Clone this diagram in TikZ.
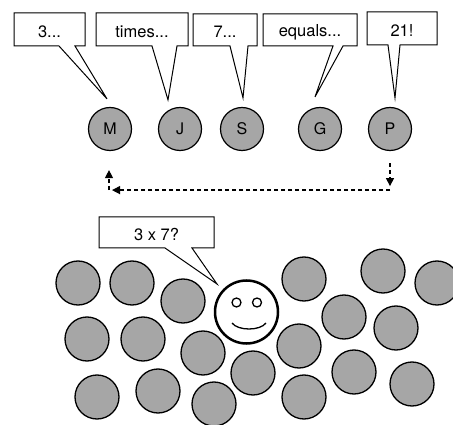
\documentclass[tikz,border=0pt]{standalone}
\usepackage{fontspec}
\setmainfont{TeX Gyre Heros}
\usetikzlibrary{arrows.meta,calc}
\definecolor{disc}{RGB}{166,166,166}

% speech box with a pointed tail:
% #1 name, #2 #3 top-left, #4 #5 bottom-right, #6 #7 tail base x, #8 tail tip, #9 text
\newcommand\speechbox[9]{%
  \draw[balloon] (#2,#3) -- (#4,#3) -- (#4,#5) -- (#7,#5) -- #8 -- (#6,#5) -- (#2,#5) -- cycle;
  \node[says] (#1) at ({(#2+#4)/2},{(#3+#5)/2+2}) {#9};
}

\begin{document}
\begin{tikzpicture}[x=1pt,y=-1pt,
  person/.style={circle,draw=black,fill=disc,line width=1.2pt,minimum size=43pt,
                 inner sep=0pt,font=\fontsize{16}{18}\selectfont},
  crowd/.style={circle,draw=black,fill=disc,line width=1.3pt,minimum size=44pt,inner sep=0pt},
  face/.style={circle,draw=black,fill=white,line width=2.5pt,minimum size=63pt,inner sep=0pt},
  eye/.style={circle,draw=black,fill=white,line width=1.3pt,minimum size=9pt,inner sep=0pt},
  balloon/.style={draw=black,fill=white,line width=1pt,line join=miter},
  says/.style={font=\fontsize{16.5}{19}\selectfont,inner sep=0pt},
  relay/.style={line width=1.2pt,dash pattern=on 4pt off 3pt,
                -{Triangle[width=8pt,length=8pt]}}]
\useasboundingbox (0,0) rectangle (453,425);

% the five speakers
\node[person] (M) at (110,129) {M};
\node[person] (J) at (180,129) {J};
\node[person] (S) at (242,129) {S};
\node[person] (G) at (320,129) {G};
\node[person] (P) at (390,129) {P};

% what each one says
\speechbox{sayM}{14}{13}{85}{46}{59}{75}{($(M.north)+(-3,-8)$)}{3...}
\speechbox{sayJ}{96}{13}{188}{46}{152}{177}{($(J.north)+(-12,-7)$)}{times...}
\speechbox{sayS}{193}{14}{257}{46}{230}{248}{($(S.north)+(1,-9)$)}{7...}
\speechbox{sayG}{263}{14}{357}{46}{333}{343}{($(G.north)+(-5,-10)$)}{equals...}
\speechbox{sayP}{367}{12}{437}{45}{388}{400}{($(P.north)+(5,-9)$)}{21!}

% the answer passed back from P to M
\coordinate (turnR) at ($(P.south)+(0,39)$);
\coordinate (turnL) at ($(M.south)+(-1,39)$);
\draw[relay] ($(P.south)+(0,12)$) -- ($(P.south)+(0,35)$);
\draw[relay] (turnR) -- ($(turnL)+(3,0)$);
\draw[relay] (turnL) -- ($(M.south)+(-1,19)$);

% the crowd
\foreach \n/\x/\y in {1/78/283, 2/132/283, 3/183/301, 4/304/279, 5/383/271, 6/437/283,
                      7/87/339, 8/143/339, 9/203/353, 10/299/346, 11/344/317, 12/396/328,
                      13/97/397, 14/158/391, 15/214/404, 16/253/373, 17/304/397,
                      18/354/372, 19/412/384}
  \node[crowd] (c\n) at (\x,\y) {};

% the one who asks
\node[face] (me) at (246.5,312) {};
\node[eye] (eyeL) at ($(me)+(-10,-9.5)$) {};
\node[eye] (eyeR) at ($(me)+(10.5,-9.5)$) {};
\draw[line width=1.3pt] ($(me)+(-14.5,11)$) .. controls ($(me)+(-8.5,19)$) and ($(me)+(13.5,19)$) .. ($(me)+(19.5,11)$);

\speechbox{ask}{99}{217}{214}{248}{165}{192}{($(me)+(-29.5,-28)$)}{3 x 7?}
\end{tikzpicture}
\end{document}
